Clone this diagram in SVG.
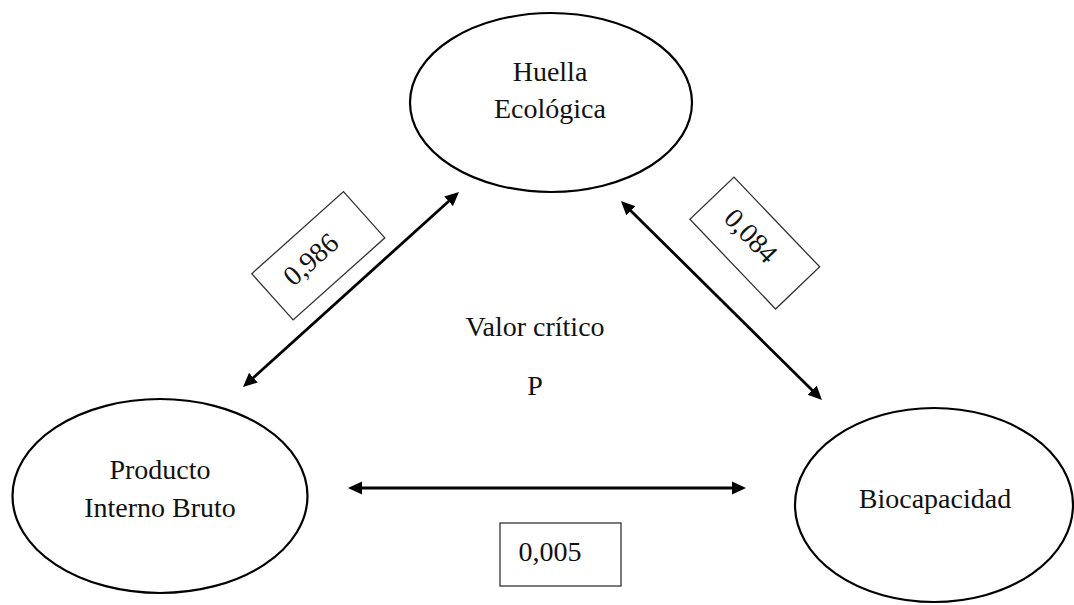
<svg xmlns="http://www.w3.org/2000/svg" width="1074" height="605" viewBox="0 0 1074 605">
<style>
.node{fill:#fff;stroke:#000;stroke-width:2.2}
.t{font-family:"Liberation Serif","Times New Roman",serif;font-size:28px;fill:#111;text-anchor:middle}
.box{fill:#fff;stroke:#333;stroke-width:1.3}
.conn{stroke:#000;stroke-width:2.8;fill:none;marker-start:url(#ah);marker-end:url(#ah)}
</style>
<defs>
<marker id="ah" markerUnits="userSpaceOnUse" markerWidth="16" markerHeight="14" refX="2" refY="6.5" orient="auto-start-reverse" viewBox="0 0 16 13">
<path d="M0,0 L14,6.5 L0,13 z" fill="#000"/>
</marker>
</defs>
<rect width="1074" height="605" fill="#fff"/>
<g id="connectors">
<line class="conn" x1="251.9" y1="379" x2="450.1" y2="200"/>
<line class="conn" x1="629.5" y1="209.4" x2="813.5" y2="391.6"/>
<line class="conn" x1="360" y1="488" x2="734" y2="488"/>
</g>
<g id="huella">
<ellipse class="node" cx="551" cy="102.5" rx="141" ry="89.5"/>
<text class="t" x="550" y="81">Huella</text>
<text class="t" x="550" y="118">Ecológica</text>
</g>
<g id="pib">
<ellipse class="node" cx="160" cy="496" rx="147.5" ry="97"/>
<text class="t" x="160" y="479">Producto</text>
<text class="t" x="160" y="517">Interno Bruto</text>
</g>
<g id="biocapacidad">
<ellipse class="node" cx="934" cy="505" rx="139" ry="97"/>
<text class="t" x="935" y="508">Biocapacidad</text>
</g>
<g id="valor">
<text class="t" x="535" y="336">Valor crítico</text>
<text class="t" x="535" y="395">P</text>
</g>
<g id="label-pib-huella" transform="translate(318.3,255.8) rotate(-41.8)">
<rect class="box" x="-61.5" y="-31" width="123" height="62"/>
<text class="t" x="-8" y="7">0,986</text>
</g>
<g id="label-huella-bio" transform="translate(754.8,243.1) rotate(46.3)">
<rect class="box" x="-62" y="-30.5" width="124" height="61"/>
<text class="t" x="-8" y="7">0,084</text>
</g>
<g id="label-pib-bio">
<rect class="box" x="500" y="523" width="121" height="63"/>
<text class="t" x="550" y="561">0,005</text>
</g>
</svg>
